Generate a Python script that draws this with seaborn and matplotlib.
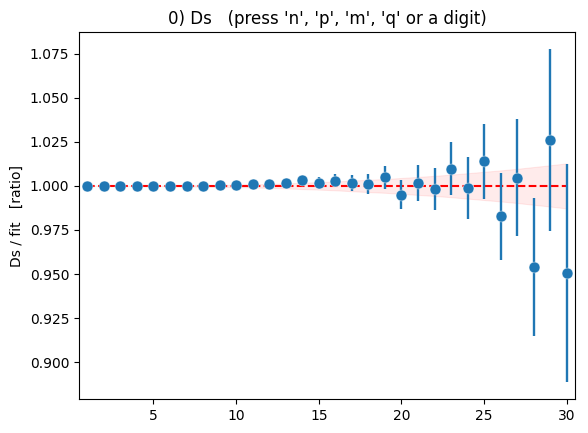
import numpy as np
import pandas as pd
import seaborn as sns
import matplotlib
matplotlib.use("Agg")
import matplotlib.pyplot as plt

# bin index
bins = list(range(1, 31))

# measured Ds / fit ratio per bin
ratio = [1.0000, 1.0000, 1.0000, 1.0000, 1.0000, 1.0000, 1.0000, 1.0001, 1.0004, 1.0004,
         1.0008, 1.0013, 1.0019, 1.0032, 1.0017, 1.0030, 1.0017, 1.0011, 1.0049, 0.9951,
         1.0017, 0.9981, 1.0098, 0.9987, 1.0139, 0.9827, 1.0047, 0.9540, 1.0261, 0.9506]

# statistical error on the ratio
ratio_err = [0.0001, 0.0001, 0.0002, 0.0002, 0.0003, 0.0004, 0.0005, 0.0006, 0.0008, 0.0010,
             0.0013, 0.0016, 0.0020, 0.0026, 0.0032, 0.0038, 0.0046, 0.0055, 0.0066, 0.0080,
             0.0100, 0.0120, 0.0152, 0.0175, 0.0214, 0.0245, 0.0330, 0.0389, 0.0517, 0.0620]

# fit (normalised) and its uncertainty band
fit_ratio = [1.0] * 30
fit_err = [0.0000, 0.0000, 0.0000, 0.0001, 0.0001, 0.0002, 0.0003, 0.0004, 0.0005, 0.0007,
           0.0009, 0.0011, 0.0014, 0.0018, 0.0021, 0.0025, 0.0030, 0.0035, 0.0039, 0.0045,
           0.0051, 0.0057, 0.0064, 0.0072, 0.0080, 0.0088, 0.0097, 0.0107, 0.0117, 0.0128]

df = pd.DataFrame({"bin": bins, "ratio": ratio, "err": ratio_err,
                   "fit": fit_ratio, "fit_err": fit_err})

fig, ax = plt.subplots(figsize=(5.88, 4.33), dpi=100)
fig.subplots_adjust(left=0.1344, right=0.978, bottom=0.0785, top=0.926)

ax.fill_between(df["bin"], df["fit"] - df["fit_err"], df["fit"] + df["fit_err"],
                color="red", alpha=0.08, linewidth=0.8, zorder=1)
sns.lineplot(data=df, x="bin", y="fit", ax=ax, color="red", linestyle="--",
             linewidth=1.5, zorder=2)
ax.errorbar(df["bin"], df["ratio"], yerr=df["err"], fmt="none",
            ecolor="#1f77b4", elinewidth=1.7, zorder=3)
sns.scatterplot(data=df, x="bin", y="ratio", ax=ax, s=62, color="#1f77b4",
                edgecolor="white", linewidth=0.3, zorder=4)

ax.set_xlim(0.5, 30.5)
ax.set_xticks([5, 10, 15, 20, 25, 30])
ax.set_yticks([0.900, 0.925, 0.950, 0.975, 1.000, 1.025, 1.050, 1.075])
ax.set_xlabel("")
ax.set_ylabel("Ds / fit   [ratio]")
ax.set_title("0) Ds   (press 'n', 'p', 'm', 'q' or a digit)")

fig.savefig("out.png", dpi=100)
